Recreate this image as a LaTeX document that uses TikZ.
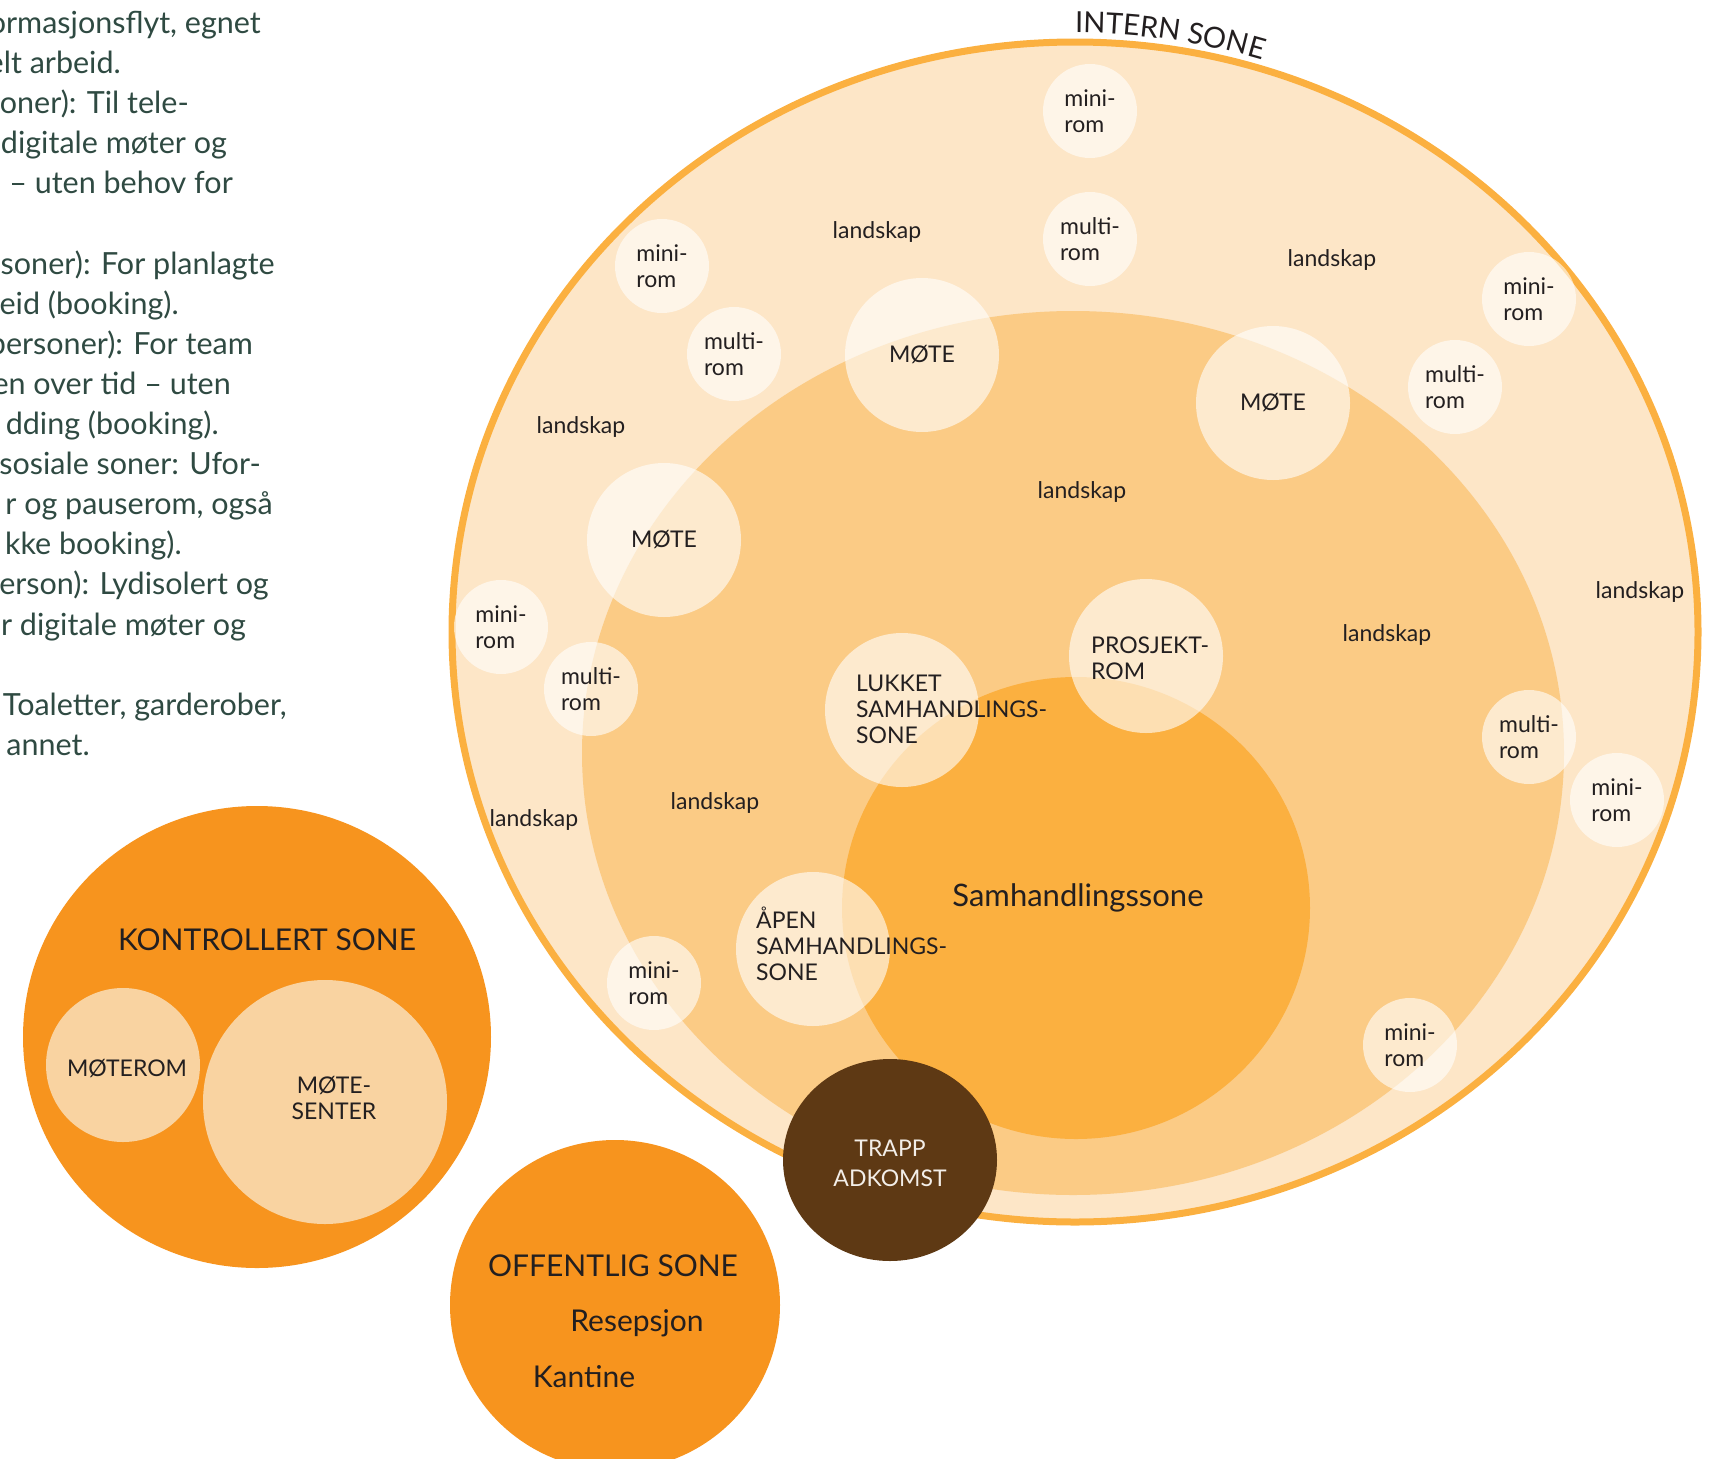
\documentclass[tikz,border=0pt]{standalone}
\usepackage{fontspec}
\setmainfont{Lato}
\usetikzlibrary{shapes.geometric,decorations.text}
\definecolor{outerfill}{HTML}{FDE6C7}
\definecolor{zoneorange}{HTML}{FBB040}
\definecolor{midfill}{HTML}{FBCB85}
\definecolor{ctrlorange}{HTML}{F7941E}
\definecolor{innerpeach}{HTML}{F9D3A1}
\definecolor{trappbrown}{HTML}{5E3914}
\definecolor{trapptext}{HTML}{F3EEE8}
\definecolor{labeltext}{HTML}{231F20}
\definecolor{lefttext}{HTML}{2F4A42}
\newcommand\smallfnt{\fontsize{23}{26}\selectfont}
\newcommand\bigfnt{\fontsize{30}{34}\selectfont}
\newcommand\sidefnt{\fontsize{30.5}{40}\selectfont}
\newcommand\trappfnt{\fontsize{23}{30}\selectfont}
\newcommand\internfnt{\fontsize{29}{34}\selectfont}
\tikzset{
  room/.style={circle, fill=white, fill opacity=0.6, text opacity=1, inner sep=0pt, minimum size=94pt, font=\smallfnt, align=left, text=labeltext},
  bigroom/.style={room, minimum size=154pt},
  lbl/.style={font=\smallfnt, text=labeltext, inner sep=0pt},
  blocklbl/.style={lbl, align=left, anchor=west},
  zonelbl/.style={font=\bigfnt, text=labeltext, inner sep=0pt, anchor=base},
  sidetxt/.style={font=\sidefnt, text=lefttext, inner sep=0pt, anchor=base east},
  zone/.style={ellipse, inner sep=0pt, outer sep=0pt},
}
\begin{document}
\begin{tikzpicture}[x=1pt,y=-1pt]
\useasboundingbox (0,0) rectangle (1722,1459);
\clip (0,0) rectangle (1722,1459);

% left text
\node[sidetxt] (s1) at (261,33) {ormasjonsflyt, egnet};
\node[sidetxt] (s2) at (121,73) {elt arbeid.};
\node[sidetxt] (s3) at (189,113) {soner): Til tele-};
\node[sidetxt] (s4) at (227,153) {digitale møter og};
\node[sidetxt] (s5) at (233,193) {d – uten behov for};
\node[sidetxt] (s7) at (275,274) {soner): For planlagte};
\node[sidetxt] (s8) at (179,314) {eid (booking).};
\node[sidetxt] (s9) at (253,354) {personer): For team};
\node[sidetxt] (s10) at (231,394) {en over tid – uten};
\node[sidetxt] (s11) at (219,434) {dding (booking).};
\node[sidetxt] (s12) at (261,474) {sosiale soner: Ufor-};
\node[sidetxt] (s13) at (273,514) {r og pauserom, også};
\node[sidetxt] (s14) at (182,554) {kke booking).};
\node[sidetxt] (s15) at (269,594) {erson): Lydisolert og};
\node[sidetxt] (s16) at (246,635) {r digitale møter og};
\node[sidetxt] (s18) at (287,715) {Toaletter, garderober,};
\node[sidetxt] (s19) at (90,755) {annet.};

% intern zone
\node[zone, draw=zoneorange, line width=7pt, fill=outerfill, minimum width=1246pt, minimum height=1180pt] (intern) at (1075,632) {};
\node[zone, fill=midfill, minimum width=982pt, minimum height=884pt] (landzone) at (1073,753) {};
\node[zone, fill=zoneorange, minimum width=468pt, minimum height=462pt] (samh) at (1076,908) {};

\path[decorate, decoration={text along path, text align=left, text={|\internfnt\color{labeltext}|INTERN SONE}}]
  (1075,33) arc[start angle=90, end angle=55, x radius=632pt, y radius=599pt];

% rooms
\node[room] (mr1) at (1090,111) {mini-\\rom};
\node[room] (mu1) at (1090,239) {multi-\\rom};
\node[room] (mr2) at (662,266) {mini-\\rom};
\node[room] (mu2) at (734,354) {multi-\\rom};
\node[bigroom] (mo1) at (922,355) {MØTE};
\node[bigroom] (mo2) at (1273,403) {MØTE};
\node[room] (mr3) at (1529,299) {mini-\\rom};
\node[room] (mu3) at (1455,387) {multi-\\rom};
\node[bigroom] (mo3) at (664,540) {MØTE};
\node[room] (mr4) at (501,627) {mini-\\rom};
\node[room] (mu4) at (591,689) {multi-\\rom};
\node[bigroom] (pro) at (1146,656) {};
\node[bigroom] (luk) at (902,710) {};
\node[bigroom] (apen) at (813,949) {};
\node[room] (mr5) at (654,983) {mini-\\rom};
\node[room] (mr6) at (1410,1045) {mini-\\rom};
\node[room] (mu5) at (1529,737) {multi-\\rom};
\node[room] (mr7) at (1617,800) {mini-\\rom};

\node[blocklbl] (prolbl) at (1091,658) {PROSJEKT-\\ROM};
\node[blocklbl] (luklbl) at (856,709) {LUKKET\\SAMHANDLINGS-\\SONE};
\node[blocklbl] (apenlbl) at (756,944) {ÅPEN\\SAMHANDLINGS-\\SONE};

% landskap labels
\node[lbl] (l1) at (877,232) {landskap};
\node[lbl] (l2) at (1332,260) {landskap};
\node[lbl] (l3) at (581,427) {landskap};
\node[lbl] (l4) at (1082,492) {landskap};
\node[lbl] (l5) at (1640,592) {landskap};
\node[lbl] (l6) at (1387,635) {landskap};
\node[lbl] (l7) at (715,803) {landskap};
\node[lbl] (l8) at (534,820) {landskap};

\node[font=\fontsize{31}{36}\selectfont, text=labeltext, inner sep=0pt] (samhlbl) at (1078,898) {Samhandlingssone};

% kontrollert sone
\node[zone, fill=ctrlorange, minimum width=468pt, minimum height=462pt] (ktrl) at (257,1037) {};
\node[circle, fill=innerpeach, inner sep=0pt, minimum size=154pt] (moterom) at (123,1065) {};
\node[circle, fill=innerpeach, inner sep=0pt, minimum size=244pt] (motesenter) at (325,1102) {};
\node[zonelbl] (ktrllbl) at (267,950) {KONTROLLERT SONE};
\node[lbl, anchor=base] (moteromlbl) at (127,1076) {MØTEROM};
\node[lbl, align=center] (motesenterlbl) at (334,1098) {MØTE-\\SENTER};

% offentlig sone
\node[circle, fill=ctrlorange, inner sep=0pt, minimum size=330pt] (off) at (615,1305) {};
\node[zonelbl] (offlbl) at (613,1276) {OFFENTLIG SONE};
\node[zonelbl] (resep) at (637,1331) {Resepsjon};
\node[zonelbl] (kant) at (584,1387) {Kantine};

% trapp
\node[zone, fill=trappbrown, minimum width=214pt, minimum height=202pt] (trapp) at (890,1160) {};
\node[font=\trappfnt, text=trapptext, inner sep=0pt, anchor=base] (trapp1) at (890,1156) {TRAPP};
\node[font=\trappfnt, text=trapptext, inner sep=0pt, anchor=base] (trapp2) at (890,1186) {ADKOMST};
\end{tikzpicture}
\end{document}
